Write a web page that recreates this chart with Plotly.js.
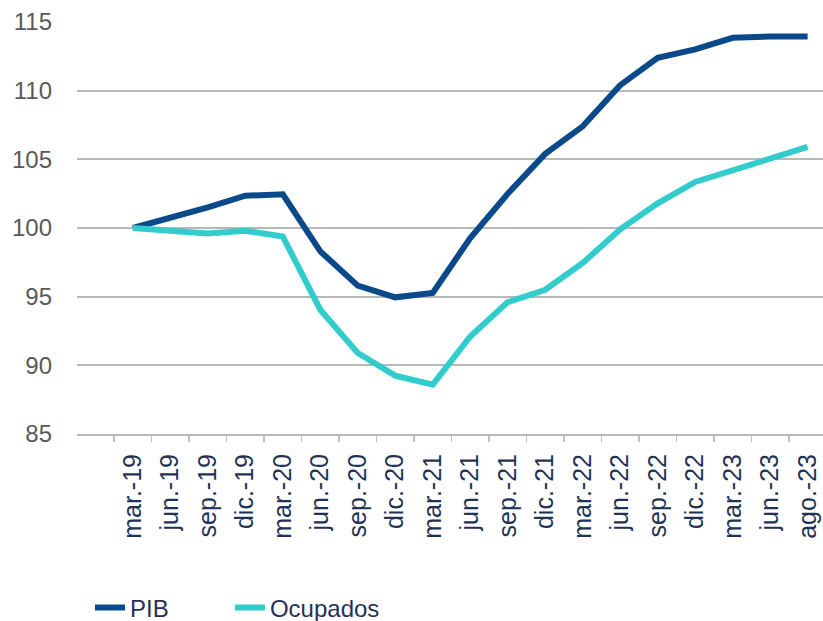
<!DOCTYPE html>
<html>
<head>
<meta charset="utf-8">
<script src="https://cdn.plot.ly/plotly-3.0.1.min.js"></script>
<style>html,body{margin:0;padding:0;background:#fff;}#chart{width:823px;height:621px;}</style>
</head>
<body>
<div id="chart"></div>
<script>
const categories = ['mar.-19','jun.-19','sep.-19','dic.-19','mar.-20','jun.-20','sep.-20','dic.-20','mar.-21','jun.-21','sep.-21','dic.-21','mar.-22','jun.-22','sep.-22','dic.-22','mar.-23','jun.-23','ago.-23'];
const pib = [100, 100.7, 101.5, 102.35, 102.45, 98.3, 95.8, 94.95, 95.27, 99.27, 102.5, 105.4, 107.4, 110.4, 112.4, 113.0, 113.85, 113.95, 113.95];
const ocupados = [100, 99.85, 99.6, 99.8, 99.38, 94.05, 90.9, 89.25, 88.6, 92.1, 94.6, 95.5, 97.45, 99.9, 101.8, 103.35, 104.2, 105.0, 105.9];
const yTicks = [85, 90, 95, 100, 105, 110, 115];

const traces = [
  {x: categories, y: pib, name: 'PIB', type: 'scatter', mode: 'lines',
   line: {color: '#0b4a8a', width: 6}, legend: 'legend'},
  {x: categories, y: ocupados, name: 'Ocupados', type: 'scatter', mode: 'lines',
   line: {color: '#33cccc', width: 6}, legend: 'legend2'}
];

const legendBase = {orientation: 'h', xanchor: 'left', yref: 'container', y: 0.021, yanchor: 'middle',
                    font: {size: 24, color: '#1f3356'}, bgcolor: 'rgba(0,0,0,0)'};

const layout = {
  width: 823, height: 621,
  margin: {l: 77, r: 0, t: 22, b: 186.5, autoexpand: false},
  paper_bgcolor: '#fff', plot_bgcolor: '#fff',
  font: {family: 'Liberation Sans, Arial, sans-serif'},
  showlegend: true,
  legend: Object.assign({}, legendBase, {x: 0.0174}),
  legend2: Object.assign({}, legendBase, {x: 0.205}),
  xaxis: {
    type: 'category', range: [-1.49, 18.41], tickangle: -90,
    tickfont: {size: 25, color: '#1f3356'},
    tickson: 'boundaries', ticks: 'outside', ticklen: 6, tickcolor: '#c0c0c0', tickwidth: 1.5,
    ticklabelstandoff: 8,
    showgrid: false, showline: true, linecolor: '#b8b8b8', linewidth: 2,
    zeroline: false, fixedrange: true, automargin: false
  },
  yaxis: {
    range: [85, 115], tickvals: yTicks, ticktext: yTicks.map(String),
    tickfont: {size: 24, color: '#595959'},
    showgrid: true, gridcolor: '#b8b8b8', gridwidth: 2,
    showline: false, zeroline: false, ticks: '', ticklabelstandoff: 24, automargin: false
  }
};

Plotly.newPlot('chart', traces, layout, {staticPlot: true});
</script>
</body>
</html>
